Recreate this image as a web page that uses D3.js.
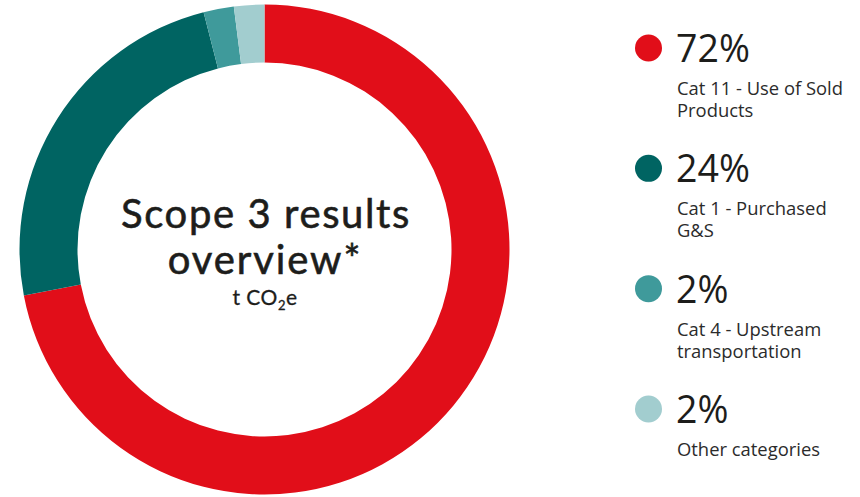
<!DOCTYPE html>
<html>
<head>
<meta charset="utf-8">
<script src="https://cdn.jsdelivr.net/npm/d3@7"></script>
<style>
  html, body { margin: 0; padding: 0; background: #fff; }
  svg { display: block; }
</style>
</head>
<body>
<svg id="chart" width="860" height="497"></svg>
<script>
// Scope 3 emissions split by category (share of total, %)
const categories = ["Cat 11 - Use of Sold Products", "Cat 1 - Purchased G&S", "Cat 4 - Upstream transportation", "Other categories"];
const shares = [72, 24, 2, 2];
const shareLabels = ["72%", "24%", "2%", "2%"];
const labelLines = [["Cat 11 - Use of Sold", "Products"], ["Cat 1 - Purchased", "G&S"], ["Cat 4 - Upstream", "transportation"], ["Other categories"]];
const colors = ["#e10e19", "#006462", "#3f9a9b", "#a2cdcf"];

const svg = d3.select("#chart");
const cx = 264.5, cy = 249.5, outerR = 245, innerR = 187;

const pie = d3.pie().sort(null).value(d => d).startAngle(0).endAngle(2 * Math.PI);
const arc = d3.arc().innerRadius(innerR).outerRadius(outerR);

const ring = svg.append("g").attr("transform", `translate(${cx},${cy})`);
ring.selectAll("path")
  .data(pie(shares))
  .join("path")
  .attr("d", arc)
  .attr("fill", (d, i) => colors[i]);

// Centre title
const titleFont = "Lato, 'Open Sans', sans-serif";
const title = svg.append("g").attr("fill", "#1d1d1b").attr("stroke", "#1d1d1b")
  .attr("text-anchor", "middle").style("font-family", titleFont);
title.append("text").attr("x", 266).attr("y", 228).attr("font-size", 40)
  .attr("letter-spacing", 1.6).attr("stroke-width", 0.6).text("Scope 3 results");
title.append("text").attr("x", 265).attr("y", 274).attr("font-size", 40)
  .attr("letter-spacing", 1.9).attr("stroke-width", 0.6).text("overview*");
const unit = title.append("text").attr("x", 265).attr("y", 305).attr("font-size", 21)
  .attr("letter-spacing", 0.5).attr("stroke-width", 0.3);
unit.append("tspan").text("t CO");
unit.append("tspan").attr("font-size", 13).attr("dy", 5).text("2");
unit.append("tspan").attr("dy", -5).text("e");

// Legend
const legendY = d3.scalePoint().domain(d3.range(categories.length)).range([48, 409]);
const legendFont = "'Open Sans', sans-serif";
const items = svg.append("g").selectAll("g")
  .data(categories)
  .join("g")
  .attr("transform", (d, i) => `translate(0,${legendY(i)})`);

items.append("circle").attr("cx", 648.5).attr("cy", 0).attr("r", 13.5)
  .attr("fill", (d, i) => colors[i]);

items.append("text").attr("x", 676).attr("y", 14)
  .style("font-family", legendFont).attr("font-size", 37.5).attr("fill", "#1d1d1b")
  .text((d, i) => shareLabels[i]);

items.each(function(d, i) {
  const t = d3.select(this).append("text")
    .style("font-family", legendFont).attr("font-size", 18.4).attr("fill", "#2b2b2b");
  labelLines[i].forEach((line, j) => {
    t.append("tspan").attr("x", 677).attr("y", 47 + j * 22).text(line);
  });
});
</script>
</body>
</html>
